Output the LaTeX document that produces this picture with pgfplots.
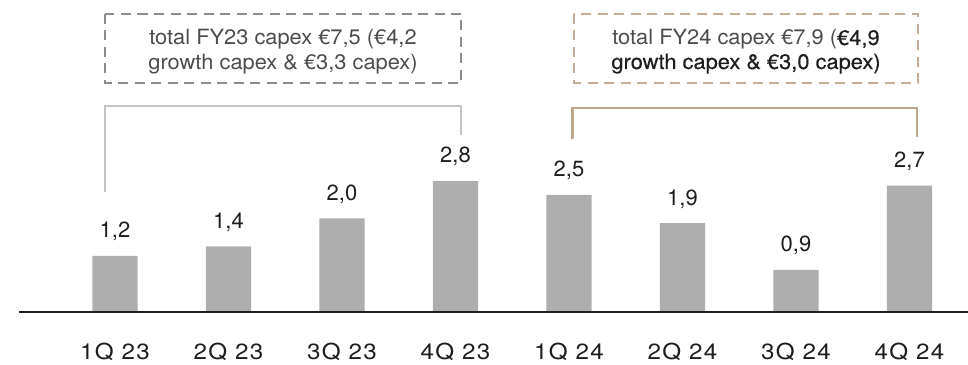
\documentclass[border=0pt]{standalone}
\usepackage{fontspec}
\setmainfont{TeX Gyre Heros}
\newfontfamily\heavy{TeX Gyre Heros}[FakeBold=0.3,FakeStretch=1.04]
\newfontfamily\boxfont{TeX Gyre Heros}[FakeStretch=1.04]
\newfontfamily\catfont{TeX Gyre Heros}[FakeStretch=1.1,LetterSpace=6]
\usepackage{pgfplots}
\pgfplotsset{compat=1.18}
\definecolor{barc}{HTML}{AEAEAE}
\definecolor{dashgray}{HTML}{8C8C8C}
\definecolor{brgray}{HTML}{C4C4C4}
\definecolor{tan}{HTML}{C4AD94}
\definecolor{tanline}{HTML}{BFA68B}
\definecolor{txtlight}{HTML}{4C4C4C}
\definecolor{txtdark}{HTML}{1E1E1E}
\begin{document}
\begin{tikzpicture}
\begin{axis}[
  scale only axis, width=968pt, height=364pt,
  xmin=-1.01322, xmax=7.51542, ymin=-1.11111, ymax=6.66667,
  axis line style={draw=none}, tick style={draw=none},
  ytick=\empty, xtick={0,...,7},
  xticklabels={1Q 23,2Q 23,3Q 23,4Q 23,1Q 24,2Q 24,3Q 24,4Q 24},
  xticklabel style={anchor=base, inner sep=0pt, yshift=9pt, font=\fontsize{22}{26}\catfont, text=txtdark},
  clip=false,
  ybar, bar width=45.3pt,
  nodes near coords={\pgfmathprintnumber[fixed,fixed zerofill,precision=1,use comma,assume math mode=true]{\pgfplotspointmeta}},
  every node near coord/.append style={font=\fontsize{22}{26}\selectfont, text=txtdark, anchor=base, yshift=18pt, inner sep=0pt},
]
\addplot[fill=barc, draw=none] coordinates {(0,1.2) (1,1.4) (2,2.0) (3,2.8) (4,2.5) (5,1.9) (6,0.9) (7,2.7)};
% baseline
\draw[line width=2pt, black!88] (rel axis cs:0.01963,0.14286) -- (rel axis cs:1,0.14286);
% FY23 box
\draw[dashgray, line width=2pt, dash pattern=on 10pt off 6.5pt] (rel axis cs:0.10847,0.96154) rectangle (rel axis cs:0.47624,0.77060);
\node[anchor=base, inner sep=0pt, text=txtlight, font=\fontsize{21}{25}\boxfont] at (rel axis cs:0.29236,0.87637) {total FY23 capex €7,5 (€4,2};
\node[anchor=base, inner sep=0pt, text=txtlight, font=\fontsize{21}{25}\boxfont] at (rel axis cs:0.29236,0.80962) {growth capex \& €3,3 capex)};
% FY23 bracket
\draw[brgray, line width=2.5pt] (rel axis cs:0.10847,0.47253) -- (rel axis cs:0.10847,0.70879) -- (rel axis cs:0.47624,0.70879) -- (rel axis cs:0.47624,0.62912);
% FY24 box
\draw[tan, line width=2pt, dash pattern=on 10pt off 6.5pt] (rel axis cs:0.59298,0.96154) rectangle (rel axis cs:0.94835,0.77198);
\node[anchor=base, inner sep=0pt, text=txtlight, font=\fontsize{21}{25}\boxfont] at (rel axis cs:0.77066,0.87637) {total FY24 capex €7,9 ({\heavy\color{txtdark}€4,9}};
\node[anchor=base, inner sep=0pt, text=txtdark, font=\fontsize{21}{25}\heavy] at (rel axis cs:0.77066,0.81044) {growth capex \& €3,0 capex)};
% FY24 bracket
\draw[tanline, line width=2.5pt] (rel axis cs:0.59143,0.61813) -- (rel axis cs:0.59143,0.70330) -- (rel axis cs:0.94731,0.70330) -- (rel axis cs:0.94731,0.62363);
\end{axis}
\pgfresetboundingbox
\path (current axis.south west) rectangle (current axis.north east);
\end{tikzpicture}
\end{document}
